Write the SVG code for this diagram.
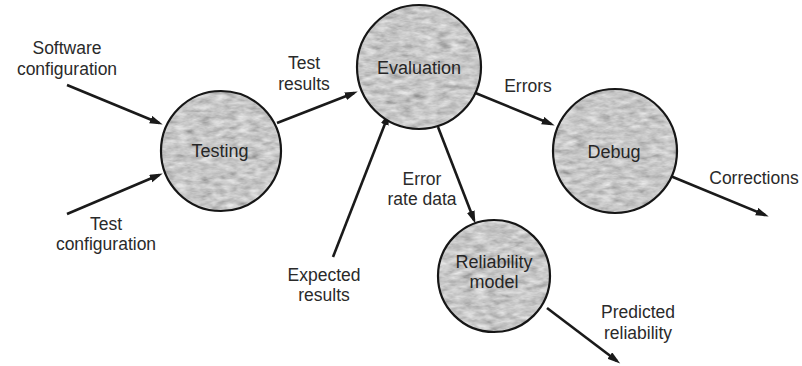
<svg xmlns="http://www.w3.org/2000/svg" width="802" height="366" viewBox="0 0 802 366">
  <style>
    .bubble { fill: #a0a0a0; filter: url(#mottle); }
    .rim { fill: none; stroke: #161616; stroke-width: 2.2; }
    .name { font-family: "Liberation Sans", Arial, sans-serif; font-size: 18px; fill: #262626; text-anchor: middle; }
    .lbl { font-family: "Liberation Sans", Arial, sans-serif; font-size: 17.5px; fill: #2a2a2a; text-anchor: middle; }
    .flow { fill: none; stroke: #1a1a1a; stroke-width: 2.6; marker-end: url(#head); }
  </style>
  <defs>
    <!-- mottled grey fill for the process bubbles -->
    <filter id="mottle" x="0" y="0" width="100%" height="100%">
      <feTurbulence type="fractalNoise" baseFrequency="0.08 0.2" numOctaves="3" seed="7" result="noise"/>
      <feColorMatrix in="noise" type="matrix" values="0.36 0.36 0.36 0 0.03  0.36 0.36 0.36 0 0.03  0.36 0.36 0.36 0 0.03  0 0 0 0 1" result="grey"/>
      <feComposite in="grey" in2="SourceGraphic" operator="in"/>
    </filter>
    <marker id="head" markerUnits="userSpaceOnUse" markerWidth="14" markerHeight="10" refX="9" refY="4" orient="auto">
      <path d="M0,0 L13,4 L0,8 Z" fill="#1a1a1a"/>
    </marker>
  </defs>

  <rect width="802" height="366" fill="#ffffff"/>

  <g id="connectors">
    <line class="flow" x1="67" y1="85" x2="159" y2="123"/>
    <line class="flow" x1="67" y1="214" x2="159" y2="175"/>
    <line class="flow" x1="277" y1="123" x2="354" y2="93"/>
    <line class="flow" x1="333" y1="257" x2="388" y2="116"/>
    <line class="flow" x1="473" y1="92" x2="551" y2="124"/>
    <line class="flow" x1="438" y1="127" x2="474" y2="220"/>
    <line class="flow" x1="668" y1="175" x2="765" y2="215"/>
    <line class="flow" x1="547" y1="308" x2="617" y2="361"/>
  </g>

  <g id="testing">
    <circle class="bubble" cx="221" cy="151" r="60"/>
    <circle class="rim" cx="221" cy="151" r="60"/>
    <text class="name" x="220" y="157">Testing</text>
  </g>

  <g id="evaluation">
    <circle class="bubble" cx="419" cy="67" r="62"/>
    <circle class="rim" cx="419" cy="67" r="62"/>
    <text class="name" x="419" y="74">Evaluation</text>
  </g>

  <g id="debug">
    <circle class="bubble" cx="615" cy="151" r="62"/>
    <circle class="rim" cx="615" cy="151" r="62"/>
    <text class="name" x="614" y="158">Debug</text>
  </g>

  <g id="reliability-model">
    <circle class="bubble" cx="494" cy="276" r="56"/>
    <circle class="rim" cx="494" cy="276" r="56"/>
    <text class="name" x="494" y="268">Reliability</text>
    <text class="name" x="494" y="288">model</text>
  </g>

  <g id="labels">
    <text class="lbl" x="67" y="54">Software</text>
    <text class="lbl" x="67" y="75">configuration</text>
    <text class="lbl" x="106" y="230">Test</text>
    <text class="lbl" x="106" y="250">configuration</text>
    <text class="lbl" x="304" y="69">Test</text>
    <text class="lbl" x="304" y="90">results</text>
    <text class="lbl" x="528" y="92">Errors</text>
    <text class="lbl" x="422" y="185">Error</text>
    <text class="lbl" x="422" y="205">rate data</text>
    <text class="lbl" x="324" y="281">Expected</text>
    <text class="lbl" x="324" y="301">results</text>
    <text class="lbl" x="754" y="184">Corrections</text>
    <text class="lbl" x="638" y="318">Predicted</text>
    <text class="lbl" x="638" y="339">reliability</text>
  </g>
</svg>
